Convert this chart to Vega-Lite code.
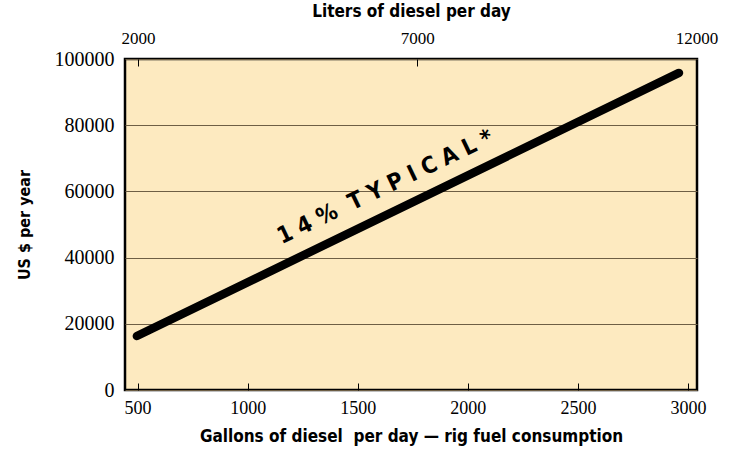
{
  "$schema": "https://vega.github.io/schema/vega-lite/v6.json",
  "width": 572,
  "height": 331,
  "autosize": "none",
  "padding": {"left": 125, "top": 59, "right": 32, "bottom": 59},
  "background": "white",
  "config": {
    "view": {"stroke": "black", "strokeWidth": 2.5, "fill": "#FDEAC0"},
    "axis": {"labelFont": "Liberation Serif", "labelColor": "black", "titleFont": "'DejaVu Sans Condensed', 'Liberation Sans Narrow', Roboto, sans-serif", "titleFontWeight": "bold", "titleColor": "black", "labelFlush": false}
  },
  "layer": [
    {
      "layer": [
        {
          "data": {"values": [{"gallons": 497, "usd": 16300}, {"gallons": 2959, "usd": 95800}]},
          "mark": {"type": "line", "color": "black", "strokeWidth": 8.5, "strokeCap": "round"},
          "encoding": {
            "x": {"field": "gallons", "type": "quantitative", "scale": {"domain": [443, 3041], "nice": false, "zero": false},
              "axis": {"title": "Gallons of diesel\u00a0 per day — rig fuel consumption", "values": [500, 1000, 1500, 2000, 2500, 3000], "format": "d", "orient": "bottom", "grid": false, "domain": false, "tickSize": -7, "tickColor": "black", "tickWidth": 1, "labelFontSize": 18, "labelPadding": 16, "titleFontSize": 17, "titlePadding": 11}},
            "y": {"field": "usd", "type": "quantitative", "scale": {"domain": [0, 100000], "nice": false},
              "axis": {"title": "US $ per year", "values": [0, 20000, 40000, 60000, 80000, 100000], "format": "d", "grid": true, "gridColor": "#6e5f45", "gridOpacity": 1, "gridWidth": 1.2, "ticks": false, "domain": false, "labelFontSize": 20, "labelPadding": 11, "titleFontSize": 16, "titlePadding": 22}}
          }
        },
        {
          "data": {"values": [{"gallons": 1625, "usd": 61300, "label": "1\u00a04\u00a0%\u00a0\u00a0T\u00a0Y\u00a0P\u00a0I\u00a0C\u00a0A\u00a0L\u00a0*"}]},
          "mark": {"type": "text", "angle": -25.5, "font": "'DejaVu Sans Condensed', 'Liberation Sans Narrow', Roboto, sans-serif", "fontWeight": "bold", "fontSize": 23, "align": "center", "baseline": "middle", "color": "black"},
          "encoding": {
            "x": {"field": "gallons", "type": "quantitative"},
            "y": {"field": "usd", "type": "quantitative"},
            "text": {"field": "label"}
          }
        }
      ]
    },
    {
      "data": {"values": [{"liters": 2000}, {"liters": 12000}]},
      "mark": {"type": "point", "opacity": 0},
      "encoding": {
        "x": {"field": "liters", "type": "quantitative", "scale": {"domain": [1765, 12010], "nice": false, "zero": false},
          "axis": {"title": "Liters of diesel per day", "orient": "top", "values": [2000, 7000, 12000], "format": "d", "grid": false, "domain": false, "tickSize": -7, "tickColor": "black", "tickWidth": 1, "labelFontSize": 17, "labelPadding": 19, "titleFontSize": 17, "titlePadding": 9}}
      }
    }
  ],
  "resolve": {"scale": {"x": "independent"}, "axis": {"x": "independent"}}
}
